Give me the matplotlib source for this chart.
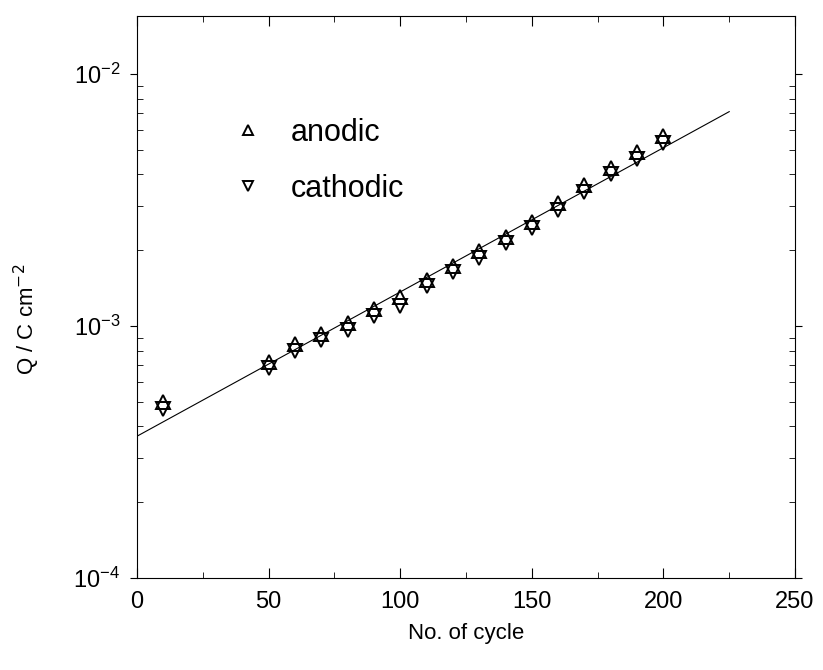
import matplotlib
matplotlib.use('Agg')
import matplotlib.pyplot as plt
from matplotlib.ticker import LogLocator, MultipleLocator, NullFormatter

plt.rcParams['font.family'] = ['Liberation Sans', 'DejaVu Sans']

# Номера циклов и заряды (Q, C cm-2)
cycles = [10, 50, 60, 70, 80, 90, 100, 110, 120, 130, 140, 150, 160, 170, 180, 190, 200]
q_anodic = [5.0e-4, 7.2e-4, 8.5e-4, 9.35e-4, 1.03e-3, 1.17e-3, 1.3e-3, 1.53e-3, 1.74e-3,
            1.99e-3, 2.26e-3, 2.6e-3, 3.08e-3, 3.63e-3, 4.25e-3, 4.9e-3, 5.7e-3]
q_cathodic = [4.7e-4, 6.8e-4, 8.0e-4, 8.8e-4, 9.7e-4, 1.1e-3, 1.2e-3, 1.44e-3, 1.64e-3,
              1.86e-3, 2.13e-3, 2.45e-3, 2.9e-3, 3.4e-3, 4.0e-3, 4.6e-3, 5.35e-3]

# Линия аппроксимации (концы)
fit_x = [0, 225]
fit_y = [3.66e-4, 7.1e-3]

fig = plt.figure(figsize=(8.23, 6.70), dpi=100)
ax = fig.add_axes([0.1665, 0.137, 0.7995, 0.839])

ax.plot(fit_x, fit_y, color='black', lw=0.8)
ax.plot(cycles, q_anodic, linestyle='none', marker='^', ms=10, mfc='none',
        mec='black', mew=1.4, label='anodic')
ax.plot(cycles, q_cathodic, linestyle='none', marker='v', ms=10, mfc='none',
        mec='black', mew=1.4, label='cathodic')

ax.set_yscale('log')
ax.set_xlim(0, 250)
ax.set_ylim(1e-4, 1.7e-2)

ax.xaxis.set_major_locator(MultipleLocator(50))
ax.xaxis.set_minor_locator(MultipleLocator(25))
ax.yaxis.set_major_locator(LogLocator(base=10, numticks=10))
ax.yaxis.set_minor_locator(LogLocator(base=10, subs=range(2, 10), numticks=10))
ax.yaxis.set_minor_formatter(NullFormatter())

ax.tick_params(axis='x', which='both', direction='in', top=True, labelsize=17, pad=9)
ax.tick_params(axis='x', which='major', length=7)
ax.tick_params(axis='x', which='minor', length=4)
ax.tick_params(axis='y', which='major', direction='out', length=5, labelsize=17, pad=7)
ax.tick_params(axis='y', which='minor', direction='in', right=True, length=4)
ax.tick_params(axis='y', which='major', right=True)

ax.set_xlabel('No. of cycle', fontsize=16)
ax.xaxis.set_label_coords(0.5, -0.08)
ax.set_ylabel('Q / C cm$^{-2}$', fontsize=16)
ax.yaxis.set_label_coords(-0.145, 0.46)

ax.legend(loc='upper left', bbox_to_anchor=(0.099, 0.868), frameon=False,
          fontsize=22, markerscale=0.7, handlelength=1.2, handletextpad=0.8,
          labelspacing=0.85)

plt.savefig('out.png', dpi=100)
